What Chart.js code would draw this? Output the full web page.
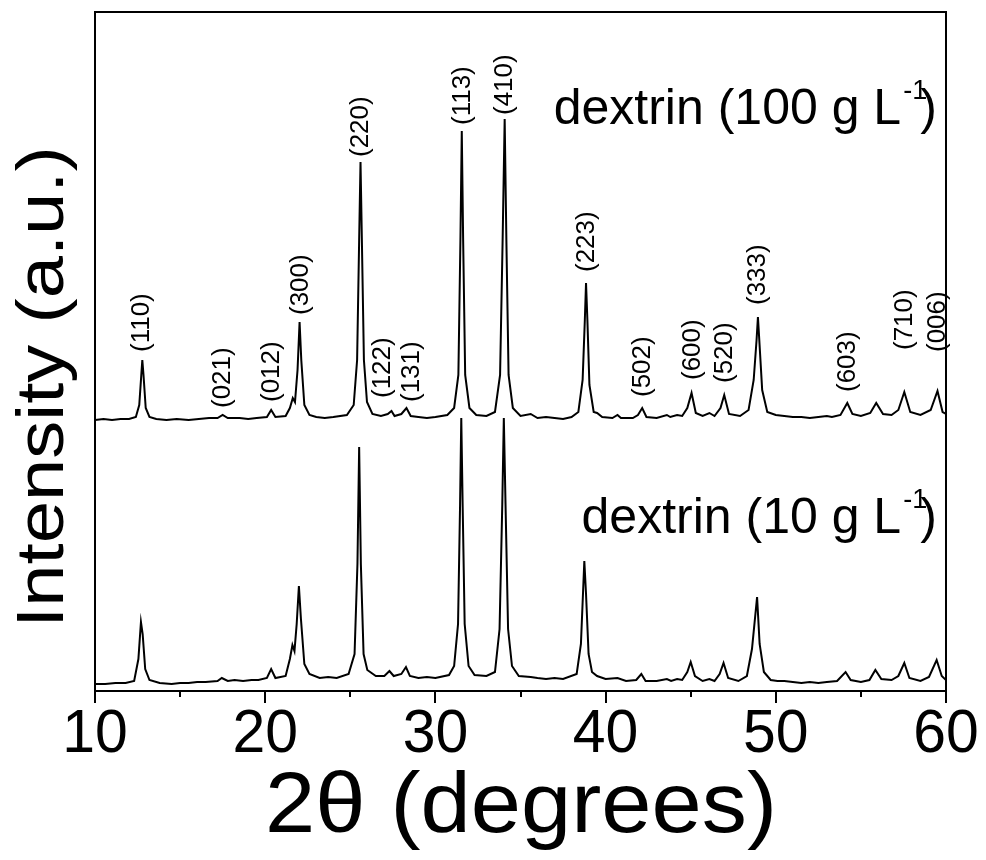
<!DOCTYPE html>
<html><head><meta charset="utf-8">
<script src="https://cdn.jsdelivr.net/npm/chart.js@4.4.1/dist/chart.umd.min.js"></script>
<style>html,body{margin:0;padding:0;background:#fff;}#wrap{width:986px;height:860px;}</style>
</head><body><div id="wrap"><canvas id="c" width="986" height="860"></canvas></div>
<script>
// ---- data ----
const twoTheta100 = [10.0,10.5,11.0,11.5,12.0,12.4,12.6,12.72,12.78,12.85,
12.98,13.2,13.6,14.2,14.8,15.5,16.1,16.7,17.2,17.5,17.8,18.5,19.0,
19.5,20.1,20.35,20.6,21.2,21.45,21.62,21.75,21.9,22.02,
22.12,22.3,22.6,23.0,23.5,24.0,24.8,25.2,25.4,25.52,25.6,
25.68,25.8,25.98,26.3,26.8,27.2,27.42,27.6,28.0,28.3,
28.55,29.0,29.5,30.0,30.7,31.1,31.35,31.47,31.55,31.63,31.75,
32.0,32.4,33.0,33.5,33.8,33.95,34.07,34.17,34.3,34.55,
35.0,35.6,36.0,36.5,37.0,37.5,38.0,38.4,38.65,38.78,38.85,38.93,
39.05,39.3,39.5,39.8,40.4,40.7,40.9,41.6,41.9,42.15,
42.4,43.0,43.6,43.8,44.2,44.5,44.8,45.05,45.3,45.7,
46.1,46.4,46.75,46.97,47.25,47.9,48.4,48.7,48.87,48.95,
49.03,49.2,49.5,50.0,50.5,51.0,51.5,52.0,52.5,53.0,
53.3,53.8,54.2,54.5,55.0,55.55,55.9,56.3,56.8,57.2,
57.55,57.9,58.5,59.1,59.5,59.8,60.0];
const intensity100 = [0,1,0,1,1,3,15,45,60,45,
12,3,1,0,1,0,1,2,2,5,2,2,1,
2,3,10,3,4,12,22,18,50,98,
60,15,5,3,2,3,5,15,60,180,258,
180,60,18,6,4,6,9,4,6,12,
4,3,2,3,5,12,45,180,289,180,45,
12,5,4,8,45,180,301,180,45,12,
4,6,2,3,2,1,3,8,40,100,137,100,
35,8,7,3,2,5,2,2,5,12,
3,2,5,3,5,4,12,27,7,4,
7,4,12,25,6,4,10,40,80,103,
80,30,8,5,4,3,3,2,3,4,
3,5,17,6,4,7,17,6,5,10,
28,8,5,10,29,8,6];
const offset100 = 264; // vertical stacking offset of the upper pattern

const twoTheta10 = [10.0,10.6,11.2,11.8,12.3,12.55,12.7,12.8,12.95,13.2,
13.8,14.5,15.0,15.5,16.0,16.5,17.2,17.45,17.8,18.2,18.7,19.2,19.6,20.1,
20.35,20.6,21.2,21.45,21.6,21.72,21.85,21.98,22.1,22.3,
22.6,23.2,23.7,24.2,24.9,25.25,25.42,25.52,25.62,25.78,26.0,
26.5,27.0,27.3,27.55,28.0,28.27,28.5,29.0,29.5,30.0,30.8,
31.1,31.33,31.45,31.52,31.6,31.72,31.95,32.3,33.0,33.5,
33.77,33.93,34.02,34.12,34.27,34.5,34.9,35.6,36.0,36.5,37.0,37.5,
38.3,38.55,38.75,38.85,39.0,39.2,39.5,40.0,40.7,41.2,
41.8,42.1,42.35,43.0,43.6,43.85,44.2,44.5,44.8,45.0,
45.25,45.7,46.1,46.4,46.7,46.93,47.2,47.8,48.3,48.6,
48.9,49.05,49.3,49.7,50.1,50.5,51.0,51.5,52.0,52.5,53.0,53.6,54.1,
54.4,55.0,55.5,55.85,56.2,56.8,57.2,57.55,57.85,58.5,
59.0,59.45,59.75,60.0];
const intensity10 = [0,0,1,1,3,25,62,50,15,4,
1,0,1,1,2,2,3,6,3,4,3,4,4,6,
15,6,8,25,39,33,60,98,65,20,
10,6,7,6,10,30,120,237,120,30,14,
8,8,13,8,10,17,8,6,7,6,9,
18,60,180,266,180,60,18,9,8,12,
55,180,266,180,55,18,8,7,6,5,6,5,
10,40,123,90,30,12,8,5,6,3,
4,10,3,3,5,3,5,4,12,22,
8,3,5,3,10,21,6,3,8,35,
87,40,12,4,3,3,2,1,2,1,2,3,12,
4,2,4,14,5,4,8,21,6,3,
7,24,8,4];

const peakLabels = ['(110)','(021)','(012)','(300)','(220)','(122)','(131)','(113)','(410)','(223)','(502)','(600)','(520)','(333)','(603)','(710)','(006)'];
const peakLabelTheta = [12.76,17.5,20.4,22.1,25.6,26.92,28.62,31.6,34.1,38.9,42.2,45.1,47.0,48.95,54.25,57.6,59.5];
const peakLabelLevel = [332,276,282,369,527,286,282,559,569,412,287,304,301,379,292,334,332];

const xTicks = [10,20,30,40,50,60];
const xMinorTicks = [15,25,35,45,55];
const seriesNames = ['dextrin (100 g L', 'dextrin (10 g L'];
const xTitle = '2θ (degrees)';
const yTitle = 'Intensity (a.u.)';

// ---- drawing ----
const FONT = '"Liberation Sans", Arial, sans-serif';
function pts(xs, ys, off){ return xs.map((x,i)=>({x:x, y:ys[i]+off})); }

function txt(ctx, s, x, y, size, sx, align, base, rot){
  ctx.save();
  ctx.translate(x,y);
  if(rot){ ctx.rotate(-Math.PI/2); ctx.scale(1,sx); } else { ctx.scale(sx,1); }
  ctx.font = size+'px '+FONT;
  ctx.fillStyle = '#000';
  ctx.textAlign = align; ctx.textBaseline = base;
  ctx.fillText(s,0,0);
  ctx.restore();
}

const decor = {
  id:'decor',
  afterDatasetsDraw(chart){
    const ctx = chart.ctx, ca = chart.chartArea;
    const xs = chart.scales.x, ys = chart.scales.y;
    ctx.save();
    ctx.strokeStyle = '#000'; ctx.lineWidth = 2;
    ctx.strokeRect(ca.left, ca.top, ca.right-ca.left, ca.bottom-ca.top);
    ctx.beginPath();
    xTicks.forEach(v=>{ const p = Math.round(xs.getPixelForValue(v)); ctx.moveTo(p, ca.bottom); ctx.lineTo(p, ca.bottom+12); });
    xMinorTicks.forEach(v=>{ const p = Math.round(xs.getPixelForValue(v)); ctx.moveTo(p, ca.bottom); ctx.lineTo(p, ca.bottom+6); });
    ctx.stroke();
    ctx.restore();
    // tick labels
    xTicks.forEach(v=>{ txt(ctx, String(v), xs.getPixelForValue(v), 752, 62, 0.95, 'center', 'alphabetic', false); });
    // axis titles
    txt(ctx, xTitle, 521, 832, 86, 1.05, 'center', 'alphabetic', false);
    txt(ctx, yTitle, 45, 387, 76, 0.88, 'center', 'middle', true);
    // peak labels
    peakLabels.forEach((s,i)=>{
      txt(ctx, s, xs.getPixelForValue(peakLabelTheta[i]), ys.getPixelForValue(peakLabelLevel[i]), 26, 1.0, 'left', 'middle', true);
    });
    // series names with superscript
    [[seriesNames[0],124],[seriesNames[1],533]].forEach(([s,base])=>{
      const F = 50, FS = 27;
      ctx.save();
      ctx.font = F+'px '+FONT; const mw = ctx.measureText(s).width; const pw = ctx.measureText(')').width;
      ctx.font = FS+'px '+FONT; const sw = ctx.measureText('-1').width;
      const total = mw + sw*0.8 + pw;
      ctx.translate(937 - total, base);
      ctx.fillStyle = '#000'; ctx.textBaseline = 'alphabetic'; ctx.textAlign = 'left';
      ctx.font = F+'px '+FONT; ctx.fillText(s,0,0);
      ctx.font = FS+'px '+FONT; ctx.fillText('-1', mw+2, -25);
      ctx.font = F+'px '+FONT; ctx.fillText(')', mw+sw*0.8, 0);
      ctx.restore();
    });
  }
};

new Chart(document.getElementById('c'), {
  type:'line',
  data:{ datasets:[
    {label:seriesNames[0], data:pts(twoTheta100,intensity100,offset100), borderColor:'#000', borderWidth:2, pointRadius:0, tension:0, fill:false},
    {label:seriesNames[1], data:pts(twoTheta10,intensity10,0), borderColor:'#000', borderWidth:2, pointRadius:0, tension:0, fill:false}
  ]},
  options:{
    responsive:false, animation:false, devicePixelRatio:1,
    layout:{padding:{top:12,right:40,left:0,bottom:0}},
    plugins:{legend:{display:false}, tooltip:{enabled:false}},
    scales:{
      x:{type:'linear', min:10, max:60, grid:{display:false}, border:{display:false},
         ticks:{display:false, stepSize:5}, afterFit(s){ s.height = 169; }},
      y:{type:'linear', min:-7, max:672, grid:{display:false}, border:{display:false},
         ticks:{display:false}, afterFit(s){ s.width = 95; }}
    }
  },
  plugins:[decor]
});
</script></body></html>
